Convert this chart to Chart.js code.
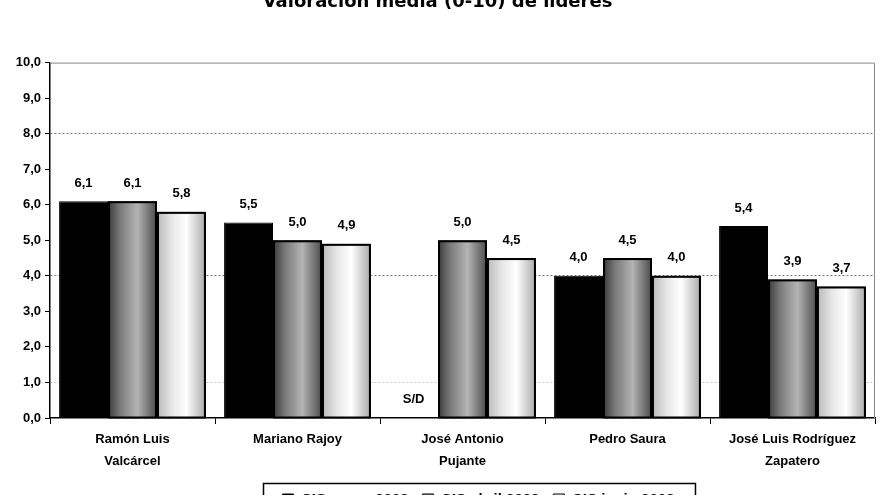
<!DOCTYPE html>
<html>
<head>
<meta charset="utf-8">
<script src="https://cdn.jsdelivr.net/npm/chart.js@4.4.1/dist/chart.umd.min.js"></script>
<style>
  html, body { margin: 0; padding: 0; background: #fff; }
  #wrap { width: 880px; height: 495px; overflow: hidden; position: relative; }
  #chart { position: absolute; left: 0; top: -12px; }
</style>
</head>
<body>
<div id="wrap"><canvas id="chart" width="880" height="540"></canvas></div>
<script>
// datos
var lideres = [
    ['Ramón Luis', 'Valcárcel'],
    'Mariano Rajoy',
    ['José Antonio', 'Pujante'],
    'Pedro Saura',
    ['José Luis Rodríguez', 'Zapatero']
];
var series = ['CIS enero 2008', 'CIS abril 2008', 'CIS junio 2008'];
var valores1 = [6.1, 5.5, null, 4.0, 5.4];
var valores2 = [6.1, 5.0, 5.0, 4.5, 3.9];
var valores3 = [5.8, 4.9, 4.5, 4.0, 3.7];
var ticksY = [0, 1, 2, 3, 4, 5, 6, 7, 8, 9, 10];

var fuente = "'Liberation Sans', Arial, sans-serif";

function coma(v) {
    return v.toFixed(1).replace('.', ',');
}

// relleno tipo cilindro para las series grises
var cilindro = {
    id: 'cilindro',
    afterDatasetsDraw: function (chart) {
        var ctx = chart.ctx;
        var paradas = {
            1: [[0, '#3a3a3a'], [0.25, '#7a7a7a'], [0.6, '#b4b4b4'], [1, '#4a4a4a']],
            2: [[0, '#b8b8b8'], [0.3, '#e6e6e6'], [0.6, '#ffffff'], [1, '#a8a8a8']]
        };
        [1, 2].forEach(function (di) {
            var meta = chart.getDatasetMeta(di);
            meta.data.forEach(function (bar) {
                if (bar.y == null || isNaN(bar.y)) return;
                var l = bar.x - bar.width / 2, r = bar.x + bar.width / 2;
                var g = ctx.createLinearGradient(l, 0, r, 0);
                paradas[di].forEach(function (p) { g.addColorStop(p[0], p[1]); });
                ctx.save();
                ctx.fillStyle = g;
                ctx.fillRect(l + 1, bar.y + 1, bar.width - 2, bar.base - bar.y - 1);
                ctx.strokeStyle = '#000';
                ctx.lineWidth = 2;
                ctx.strokeRect(l + 1, bar.y + 1, bar.width - 2, bar.base - bar.y - 1);
                ctx.restore();
            });
        });
    }
};

// etiquetas de valor encima de las barras
var etiquetas = {
    id: 'etiquetas',
    afterDatasetsDraw: function (chart) {
        var ctx = chart.ctx;
        ctx.save();
        ctx.font = 'bold 13px ' + fuente;
        ctx.fillStyle = '#000';
        ctx.textAlign = 'center';
        ctx.textBaseline = 'middle';
        chart.data.datasets.forEach(function (ds, di) {
            chart.getDatasetMeta(di).data.forEach(function (bar, i) {
                var v = ds.data[i];
                if (v == null) {
                    ctx.fillText('S/D', bar.x, chart.scales.y.getPixelForValue(0) - 19);
                } else {
                    ctx.fillText(coma(v), bar.x, bar.y - 18);
                }
            });
        });
        ctx.restore();
    }
};

// marco del area y caja de la leyenda
var marco = {
    id: 'marco',
    afterLayout: function (chart) {
        // la leyenda del original esta algo desplazada a la derecha
        chart.legend.left += 41;
        chart.legend.right += 41;
    },
    beforeDatasetsDraw: function (chart) {
        var a = chart.chartArea, ctx = chart.ctx;
        ctx.save();
        ctx.strokeStyle = '#888';
        ctx.lineWidth = 1;
        ctx.beginPath();
        ctx.moveTo(a.left, a.top + 0.5);
        ctx.lineTo(a.right - 0.5, a.top + 0.5);
        ctx.lineTo(a.right - 0.5, a.bottom);
        ctx.stroke();
        ctx.restore();
    },
    afterDraw: function (chart) {
        var lg = chart.legend, ctx = chart.ctx;
        var cajas = lg.legendHitBoxes;
        if (!cajas || !cajas.length) return;
        var izq = cajas[0].left - 20;
        var der = cajas[cajas.length - 1].left + cajas[cajas.length - 1].width + 20;
        ctx.save();
        ctx.strokeStyle = '#000';
        ctx.lineWidth = 1.5;
        ctx.strokeRect(Math.round(izq) + 0.5, cajas[0].top - 8.5, der - izq, 40);
        ctx.restore();
    }
};

new Chart(document.getElementById('chart'), {
    type: 'bar',
    data: {
        labels: lideres,
        datasets: [
            { label: series[0], data: valores1, backgroundColor: '#000', borderColor: '#000', borderWidth: 1 },
            { label: series[1], data: valores2, backgroundColor: '#888', borderColor: '#000', borderWidth: 1 },
            { label: series[2], data: valores3, backgroundColor: '#ddd', borderColor: '#000', borderWidth: 1 }
        ]
    },
    options: {
        responsive: false,
        animation: false,
        layout: { padding: { left: 0, right: 5, top: 0, bottom: 11 } },
        datasets: { bar: { barPercentage: 1.0, categoryPercentage: 0.89 } },
        plugins: {
            title: {
                display: true,
                text: 'Valoración media (0-10) de líderes',
                color: '#000',
                font: { family: "'DejaVu Sans', sans-serif", size: 18, weight: 'bold' },
                padding: { top: 4, bottom: 49 }
            },
            legend: {
                position: 'bottom',
                labels: {
                    color: '#000',
                    font: { family: fuente, size: 15, weight: 'bold' },
                    boxWidth: 11,
                    boxHeight: 11,
                    padding: 14,
                    generateLabels: function (chart) {
                        var fills = ['#000', '#888', '#eee'];
                        return series.map(function (s, i) {
                            return { text: s, fillStyle: fills[i], strokeStyle: '#000', lineWidth: 1, datasetIndex: i };
                        });
                    }
                }
            },
            tooltip: { enabled: false }
        },
        scales: {
            x: {
                grid: { offset: true, drawOnChartArea: false, color: '#000', tickLength: 6 },
                border: { color: '#000', width: 1.5 },
                ticks: { color: '#000', font: { family: fuente, size: 13, weight: 'bold', lineHeight: 1.7 }, padding: 4, maxRotation: 0, autoSkip: false },
                afterFit: function (s) { s.height = 60; }
            },
            y: {
                min: 0,
                max: 10,
                afterBuildTicks: function (s) { s.ticks = ticksY.map(function (v) { return { value: v }; }); },
                grid: {
                    drawTicks: true,
                    tickLength: 5,
                    color: function (c) {
                        var v = c.tick ? c.tick.value : null;
                        if (v === 8 || v === 4) return '#777';
                        if (v === 1) return '#c8c8c8';
                        return 'rgba(0,0,0,0)';
                    },
                    tickColor: '#000'
                },
                border: { color: '#000', width: 1.5, dash: [2, 2] },
                ticks: { color: '#000', font: { family: fuente, size: 13, weight: 'bold' }, padding: 4, callback: function (v) { return coma(v); } },
                afterFit: function (s) { s.width = 50; }
            }
        }
    },
    plugins: [marco, cilindro, etiquetas]
});
</script>
</body>
</html>
